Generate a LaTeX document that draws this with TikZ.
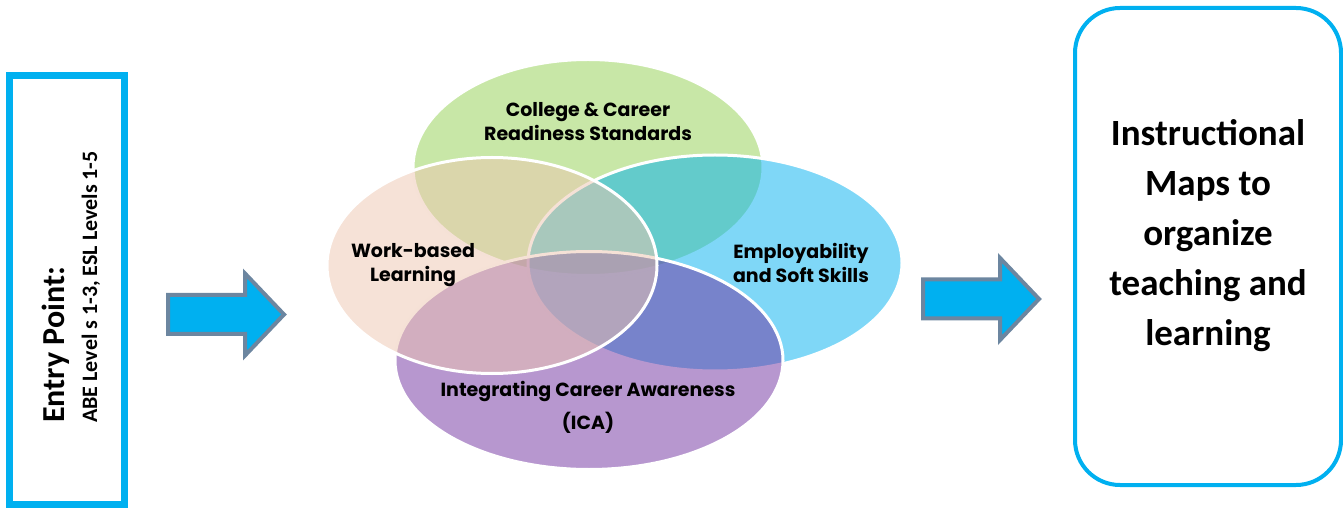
\documentclass[tikz,border=0pt]{standalone}
\usepackage{fontspec}
\setmainfont{Carlito}
\newfontfamily\vennfont{Poppins}
\usetikzlibrary{shapes.geometric}
\definecolor{boxcyan}{RGB}{0,176,240}
\definecolor{arrowedge}{RGB}{108,134,160}
\definecolor{ccrgreen}{RGB}{146,208,80}
\definecolor{eskblue}{RGB}{0,176,240}
\definecolor{icapurple}{RGB}{112,48,160}
\definecolor{wblpeach}{RGB}{237,197,175}
\tikzset{
    mybox/.style={draw=boxcyan,inner sep=0pt},
    myarrow/.style={draw=arrowedge,fill=boxcyan,line width=4pt,line join=miter},
    myset/.style={ellipse,draw=white,line width=3pt,fill opacity=0.5,inner sep=0pt},
    mylabel/.style={align=center,font=\vennfont\bfseries\fontsize{19}{24}\selectfont},
    pics/blockarrow/.style={code={
        \draw[myarrow] (0,-19.5) -- (77,-19.5) -- (77,-41) -- (116,0) -- (77,41) -- (77,19.5) -- (0,19.5) -- cycle;
    }}
}

\begin{document}
\begin{tikzpicture}[x=1pt,y=-1pt]
  \useasboundingbox (0,0) rectangle (1343,510);
  \node[mybox,line width=7pt,minimum width=115pt,minimum height=429pt] (entry) at (67,290) {};
  \node[rotate=90,align=left,font=\bfseries\fontsize{22}{33}\selectfont] (entrytext) at (71,287)
    {{\fontsize{32}{33}\selectfont Entry Point:}\\ABE Level s 1-3, ESL Levels 1-5};
  \pic at (168,314.5) {blockarrow};
  \node[myset,fill=ccrgreen,minimum width=350pt,minimum height=216pt] (ccr) at (588,167.5) {};
  \node[myset,fill=eskblue,minimum width=374pt,minimum height=216pt] (esk) at (715,263) {};
  \node[myset,fill=icapurple,minimum width=388pt,minimum height=218pt] (ica) at (589,360.5) {};
  \node[myset,fill=wblpeach,minimum width=330pt,minimum height=216pt] (wbl) at (492,265.5) {};
  \node[mylabel] (ccrlabel) at (588,122) {College \& Career\\Readiness Standards};
  \node[mylabel] (wbllabel) at (413,265) {Work-based\\Learning};
  \node[mylabel] (esklabel) at (801,263) {Employability\\and Soft Skills};
  \node[mylabel] (icalabel) at (588,407) {Integrating Career Awareness\\[9pt](ICA)};
  \pic at (923,299) {blockarrow};
  \node[mybox,line width=4pt,rounded corners=45pt,minimum width=266pt,minimum height=477pt] (maps) at (1208,246.5) {};
  \node[align=center,font=\bfseries\fontsize{37}{50}\selectfont] (mapstext) at (1208,236)
    {Instructional\\Maps to\\organize\\teaching and\\learning};
\end{tikzpicture}
\end{document}
